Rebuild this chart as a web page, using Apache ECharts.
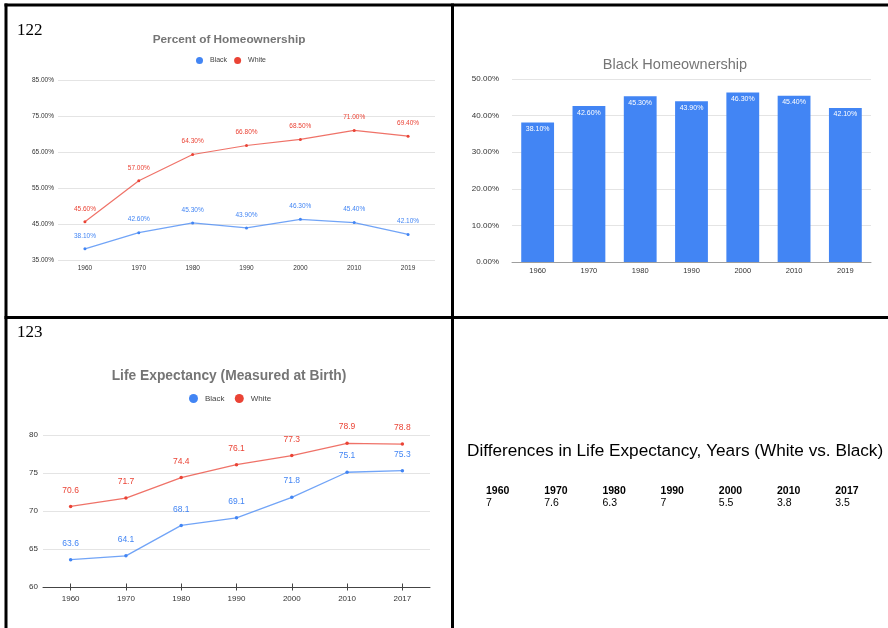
<!DOCTYPE html>
<html><head><meta charset="utf-8">
<script src="https://cdn.jsdelivr.net/npm/echarts@6/dist/echarts.min.js"></script>
<style>html,body{margin:0;padding:0;background:#fff}#c{width:888px;height:628px}</style>
</head><body><div id="c"></div>
<script>
// ---- data ----
const homeYears = ['1960','1970','1980','1990','2000','2010','2019'];
const homeBlack = [38.1, 42.6, 45.3, 43.9, 46.3, 45.4, 42.1];
const homeWhite = [45.6, 57.0, 64.3, 66.8, 68.5, 71.0, 69.4];
const lifeYears = ['1960','1970','1980','1990','2000','2010','2017'];
const lifeBlack = [63.6, 64.1, 68.1, 69.1, 71.8, 75.1, 75.3];
const lifeWhite = [70.6, 71.7, 74.4, 76.1, 77.3, 78.9, 78.8];
const diffYears = ['1960','1970','1980','1990','2000','2010','2017'];
const diffValues = [7, 7.6, 6.3, 7, 5.5, 3.8, 3.5];
const seriesNames = ['Black', 'White'];

// ---- style ----
const BLUE = '#4285F4', RED = '#EA4335';
const FONT = 'Liberation Sans, Arial, sans-serif';
const GRID = '#e4e4e4';
const pct = v => v.toFixed(2) + '%';

const chart = echarts.init(document.getElementById('c'), null, {renderer: 'canvas'});

// table graphics
const tableEls = [];
tableEls.push({type:'text', left: 467, top: 443, style:{text:'Differences in Life Expectancy, Years (White vs. Black)', font:'17.2px ' + FONT, fill:'#000'}});
diffYears.forEach((y, i) => {
  const x = 486 + i * 58.2;
  tableEls.push({type:'text', x: x, y: 486, style:{text: y, font:'bold 10.5px ' + FONT, fill:'#000'}});
  tableEls.push({type:'text', x: x, y: 498, style:{text: String(diffValues[i]), font:'10.5px ' + FONT, fill:'#000'}});
});

const option = {
  animation: false,
  textStyle: {fontFamily: FONT},
  title: [
    {text: 'Percent of Homeownership', left: 224, textAlign: 'center', top: 29,
     textStyle: {fontSize: 11.8, fontWeight: 'bold', color: '#757575', fontFamily: FONT}},
    {text: 'Black Homeownership', left: 670, textAlign: 'center', top: 52,
     textStyle: {fontSize: 14.5, fontWeight: 'normal', color: '#757575', fontFamily: FONT}},
    {text: 'Life Expectancy (Measured at Birth)', left: 224, textAlign: 'center', top: 364,
     textStyle: {fontSize: 13.8, fontWeight: 'bold', color: '#757575', fontFamily: FONT}}
  ],
  legend: [
    {data: seriesNames, left: 191, top: 52, itemWidth: 7, itemHeight: 7, itemGap: 7, icon: 'circle',
     textStyle: {fontSize: 7, color: '#444', padding: [0,0,0,2]}, selectedMode: false},
    {data: [{name: 'Black '}, {name: 'White '}], left: 184, top: 389, itemWidth: 9, itemHeight: 9, itemGap: 8, icon: 'circle',
     textStyle: {fontSize: 8, color: '#444', padding: [0,0,0,2]}, selectedMode: false}
  ],
  grid: [
    {left: 58, top: 80, width: 377, height: 180},
    {left: 512, top: 79, width: 359, height: 183},
    {left: 43, top: 435, width: 387, height: 152}
  ],
  xAxis: [
    {type: 'category', gridIndex: 0, data: homeYears, boundaryGap: true,
     axisLine: {show: false}, axisTick: {show: false},
     axisLabel: {fontSize: 6.5, color: '#333', margin: 5}},
    {type: 'category', gridIndex: 1, data: homeYears, boundaryGap: true,
     axisLine: {show: true, lineStyle: {color: '#9e9e9e', width: 1}}, axisTick: {show: false},
     axisLabel: {fontSize: 7.5, color: '#333', margin: 5}},
    {type: 'category', gridIndex: 2, data: lifeYears, boundaryGap: true, position: 'bottom',
     axisLine: {show: true, lineStyle: {color: '#444', width: 1}},
     axisTick: {show: true, alignWithLabel: true, length: 3.5, lineStyle: {color: '#444'}},
     axisLabel: {fontSize: 8, color: '#333', margin: 8}},
    {type: 'category', gridIndex: 2, data: lifeYears, boundaryGap: true, position: 'bottom',
     axisLine: {show: false},
     axisTick: {show: true, inside: true, alignWithLabel: true, length: 3.5, lineStyle: {color: '#444'}},
     axisLabel: {show: false}}
  ],
  yAxis: [
    {type: 'value', gridIndex: 0, min: 35, max: 85, interval: 10,
     axisLine: {show: false}, axisTick: {show: false},
     splitLine: {lineStyle: {color: GRID, width: 1}},
     axisLabel: {fontSize: 6.5, color: '#333', margin: 4, formatter: pct}},
    {type: 'value', gridIndex: 1, min: 0, max: 50, interval: 10,
     axisLine: {show: false}, axisTick: {show: false},
     splitLine: {lineStyle: {color: GRID, width: 1}},
     axisLabel: {fontSize: 8, color: '#333', margin: 13, formatter: pct}},
    {type: 'value', gridIndex: 2, min: 60, max: 80, interval: 5,
     axisLine: {show: false}, axisTick: {show: false},
     splitLine: {lineStyle: {color: GRID, width: 1}},
     axisLabel: {fontSize: 8, color: '#333', margin: 5}}
  ],
  series: [
    {name: 'Black', type: 'line', xAxisIndex: 0, yAxisIndex: 0, data: homeBlack,
     color: BLUE, symbol: 'circle', symbolSize: 3, lineStyle: {width: 1.2, opacity: 0.75},
     label: {show: true, position: 'top', distance: 8, fontSize: 6.5, color: BLUE, formatter: p => pct(p.value)}},
    {name: 'White', type: 'line', xAxisIndex: 0, yAxisIndex: 0, data: homeWhite,
     color: RED, symbol: 'circle', symbolSize: 3, lineStyle: {width: 1.2, opacity: 0.75},
     label: {show: true, position: 'top', distance: 8, fontSize: 6.5, color: RED, formatter: p => pct(p.value)}},
    {name: 'Black Homeownership', type: 'bar', xAxisIndex: 1, yAxisIndex: 1, data: homeBlack,
     color: BLUE, barWidth: '64%',
     label: {show: true, position: 'insideTop', distance: 3, fontSize: 7, color: '#fff', formatter: p => pct(p.value)}},
    {name: 'Black ', type: 'line', xAxisIndex: 2, yAxisIndex: 2, data: lifeBlack,
     color: BLUE, symbol: 'circle', symbolSize: 3.5, lineStyle: {width: 1.3, opacity: 0.75},
     label: {show: true, position: 'top', distance: 10, fontSize: 8.5, color: BLUE}},
    {name: 'White ', type: 'line', xAxisIndex: 2, yAxisIndex: 2, data: lifeWhite,
     color: RED, symbol: 'circle', symbolSize: 3.5, lineStyle: {width: 1.3, opacity: 0.75},
     label: {show: true, position: 'top', distance: 10, fontSize: 8.5, color: RED}}
  ],
  graphic: [
    {type: 'rect', shape: {x: 4.5, y: 3.5, width: 884, height: 3}, style: {fill: '#000'}, z: 100},
    {type: 'rect', shape: {x: 4.5, y: 3.5, width: 3, height: 625}, style: {fill: '#000'}, z: 100},
    {type: 'rect', shape: {x: 451, y: 3.5, width: 3, height: 625}, style: {fill: '#000'}, z: 100},
    {type: 'rect', shape: {x: 4.5, y: 316, width: 884, height: 3}, style: {fill: '#000'}, z: 100},
    {type: 'text', x: 17, y: 22, style: {text: '122', font: '17px Liberation Serif, Times New Roman, serif', fill: '#000'}, z: 100},
    {type: 'text', x: 17, y: 324, style: {text: '123', font: '17px Liberation Serif, Times New Roman, serif', fill: '#000'}, z: 100}
  ].concat(tableEls)
};
chart.setOption(option);
</script>
</body></html>
